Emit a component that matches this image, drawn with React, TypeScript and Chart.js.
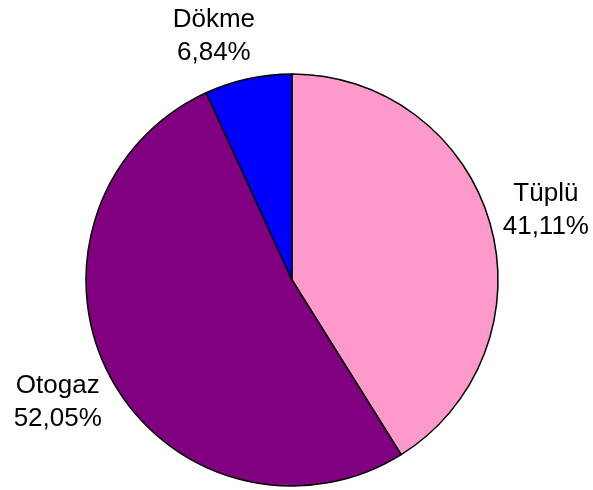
import React, { useEffect, useRef } from "react";
import { Chart, registerables } from "chart.js";

Chart.register(...registerables);

const categories: string[] = ["Tüplü", "Otogaz", "Dökme"];
const shares: number[] = [41.11, 52.05, 6.84];
const sliceColors: string[] = ["#FF99CC", "#800080", "#0000FF"];

const FONT_SIZE = 26;
const LINE_H = 33;
const LABEL_GAP = 16;
// fine placement nudges for the outside labels (pixels), per slice
const LABEL_NUDGE: [number, number][] = [[-1, 1], [0, 1], [-22, 5]];

const outsideLabels = {
  id: "outsideLabels",
  afterDatasetsDraw(chart: any) {
    const ctx = chart.ctx;
    const meta = chart.getDatasetMeta(0);
    const ds = chart.data.datasets[0];
    ctx.save();
    ctx.font = `${FONT_SIZE}px "Liberation Sans", Arial, sans-serif`;
    ctx.fillStyle = "#000";
    ctx.textAlign = "center";
    ctx.textBaseline = "middle";
    meta.data.forEach((arc: any, i: number) => {
      const p = arc.getProps(["x", "y", "startAngle", "endAngle", "outerRadius"], true);
      const mid = (p.startAngle + p.endAngle) / 2;
      const dx = Math.cos(mid);
      const dy = Math.sin(mid);
      const lines = [
        String(chart.data.labels[i]),
        Number(ds.data[i]).toFixed(2).replace(".", ",") + "%",
      ];
      const w = Math.max(...lines.map((l) => ctx.measureText(l).width));
      const h = LINE_H * lines.length;
      const nudge = LABEL_NUDGE[i] || [0, 0];
      const cx = p.x + dx * (p.outerRadius + LABEL_GAP + w / 2) + nudge[0];
      const cy = p.y + dy * (p.outerRadius + LABEL_GAP + h / 2) + nudge[1];
      lines.forEach((l, k) => {
        ctx.fillText(l, cx, cy - h / 2 + LINE_H / 2 + k * LINE_H);
      });
    });
    ctx.restore();
  },
};

export default function App() {
  const ref = useRef<HTMLCanvasElement | null>(null);
  useEffect(() => {
    document.body.style.margin = "0";
    const chart = new Chart(ref.current as HTMLCanvasElement, {
      type: "pie",
      data: {
        labels: categories,
        datasets: [
          {
            data: shares,
            backgroundColor: sliceColors,
            borderColor: "#000000",
            borderWidth: 1.5,
          },
        ],
      },
      options: {
        responsive: false,
        animation: false,
        radius: 206,
        layout: { padding: { left: 77, right: 86, top: 70, bottom: 0 } },
        plugins: {
          legend: { display: false },
          tooltip: { enabled: false },
        },
      } as any,
      plugins: [outsideLabels],
    });
    return () => chart.destroy();
  }, []);
  return (
    <div style={{ width: 593, height: 490, background: "#fff" }}>
      <canvas ref={ref} width={593} height={490} style={{ display: "block" }} />
    </div>
  );
}
